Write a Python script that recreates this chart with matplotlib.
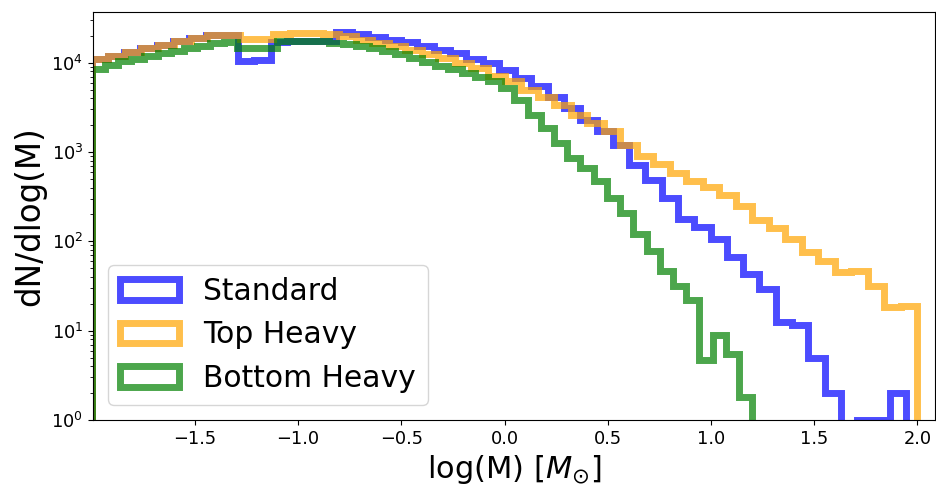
import numpy as np
import matplotlib
matplotlib.use('Agg')
import matplotlib.pyplot as plt

labels = ['Standard', 'Top Heavy', 'Bottom Heavy']
colors = ['blue', 'orange', 'green']
n_bins = 50
# log(M) range covered by each histogram
range_standard = (-2.0, 1.945)
range_top = (-2.0, 2.0)
range_bottom = (-2.0, 1.2)

standard = [11100, 11800, 13200, 14600, 15900, 17500, 18900, 20200, 20300, 10500,
            10700, 17200, 17300, 17400, 17400, 22000, 21000, 19400, 18100, 17000,
            15500, 14000, 12800, 11100, 9900, 8300, 6800, 5450, 4150, 3100,
            2300, 1720, 1190, 725, 490, 305, 179, 144, 107, 66,
            43, 29, 12.5, 11.5, 5, 2, 0, 1, 1, 2]
top_heavy = [11100, 11800, 13200, 14600, 15900, 17500, 18900, 20200, 20200, 18400,
             18400, 21200, 21400, 21300, 21000, 19700, 18200, 16800, 15400, 14000,
             12600, 11300, 10000, 8700, 7020, 6170, 4980, 4130, 3330, 2570,
             2110, 1700, 1200, 910, 735, 590, 475, 405, 330, 246,
             175, 142, 106, 76, 61, 45, 46, 32, 18.5, 19]
bottom_heavy = [8570, 9500, 10500, 11100, 12000, 12800, 13500, 14600, 15500, 16500,
                17200, 14600, 14700, 14800, 17300, 17300, 17300, 17300, 16800, 16200,
                15400, 14500, 13500, 12400, 11300, 10300, 9300, 8500, 7700, 7000,
                6280, 5200, 3850, 2610, 1855, 1260, 855, 661, 480, 305,
                207, 122, 78, 46, 32, 22, 4.7, 9, 5.5, 1.8]

series = [standard, top_heavy, bottom_heavy]
ranges = [range_standard, range_top, range_bottom]

fig = plt.figure(figsize=(9.36, 4.93), dpi=100)
ax = fig.add_axes([93/936, 1 - 420/493, (935 - 93)/936, (420 - 12)/493])

for vals, rng, c, lab in zip(series, ranges, colors, labels):
    edges = np.linspace(rng[0], rng[1], n_bins + 1)
    centers = 0.5 * (edges[:-1] + edges[1:])
    ax.hist(centers, bins=edges, weights=vals, histtype='step', log=True,
            color=c, alpha=0.7, linewidth=5, label=lab)

ax.set_yscale('log')
ax.set_xlim(-1.993, 2.085)
ax.set_ylim(1, 3.7e4)
ax.tick_params(axis='both', labelsize=12.8)
ax.set_xlabel(r'log(M) [$M_{\odot}$]', fontsize=22)
ax.set_ylabel('dN/dlog(M)', fontsize=23.5)
ax.legend(loc='lower left', fontsize=21.4)

fig.savefig('out.png', dpi=100)
